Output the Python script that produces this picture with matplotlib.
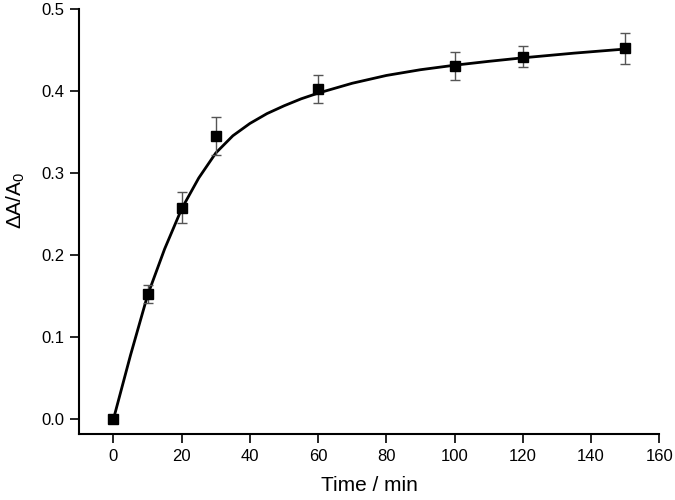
import matplotlib
matplotlib.use("Agg")
import matplotlib.pyplot as plt

plt.rcParams['font.family'] = ['Liberation Sans', 'DejaVu Sans']

# measured points
time = [0, 10, 20, 30, 60, 100, 120, 150]
ratio = [0.0, 0.153, 0.258, 0.345, 0.403, 0.431, 0.442, 0.452]
err = [0.0, 0.011, 0.019, 0.023, 0.017, 0.017, 0.013, 0.019]

# fitted curve
fit_t = [0, 5, 10, 15, 20, 25, 30, 35, 40, 45, 50, 55, 60,
         70, 80, 90, 100, 110, 120, 135, 150]
fit_y = [0.0, 0.078, 0.151, 0.2075, 0.2565, 0.294, 0.3245, 0.3455, 0.3605,
         0.3725, 0.382, 0.3905, 0.3975, 0.4095, 0.419, 0.426, 0.4315,
         0.4362, 0.4405, 0.4462, 0.4512]

fig = plt.figure(figsize=(6.75, 5), dpi=100)
ax = fig.add_axes([0.1175, 0.132, 0.8593, 0.85])

ax.plot(fit_t, fit_y, color='black', lw=2, zorder=2)
ax.errorbar(time, ratio, yerr=err, fmt='none', ecolor='#555555',
            elinewidth=1, capsize=3.3, capthick=1, zorder=3)
ax.plot(time, ratio, 's', color='black', ms=7.2, zorder=4)

ax.set_xlim(-10, 160)
ax.set_ylim(-0.018, 0.5)
ax.set_xticks(range(0, 161, 20))
ax.set_yticks([0.0, 0.1, 0.2, 0.3, 0.4, 0.5])
ax.set_yticklabels(['0.0', '0.1', '0.2', '0.3', '0.4', '0.5'])

for s in ['top', 'right']:
    ax.spines[s].set_visible(False)
for s in ['left', 'bottom']:
    ax.spines[s].set_linewidth(1.5)
ax.tick_params(direction='out', length=6.5, width=1.2, labelsize=12, pad=4)

ax.set_xlabel('Time / min', fontsize=15, labelpad=9)
ax.set_ylabel('ΔA/A$_\\mathregular{0}$', fontsize=15)
ax.yaxis.set_label_coords(-0.09, 0.55)

fig.savefig('out.png', dpi=100)
